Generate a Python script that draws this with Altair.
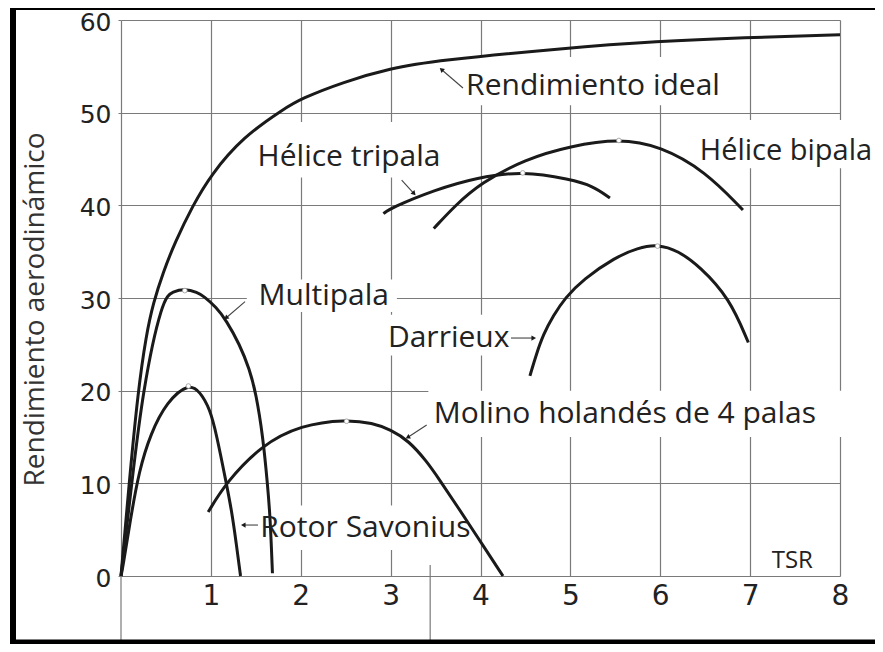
import altair as alt
import pandas as pd

# ---------------- data ----------------
ideal_x = [0, 0.09, 0.19, 0.28, 0.36, 0.47, 0.6, 0.8, 1.0, 1.36, 1.81, 2.0, 2.47, 3.0, 3.5, 4.96, 5.96, 6.92, 8.0]
ideal_y = [0, 10, 20, 26, 29.5, 32.8, 36, 40, 43.3, 47.4, 50.4, 51.5, 53.3, 54.8, 55.6, 57.0, 57.7, 58.1, 58.4]

multi_x = [0, 0.12, 0.24, 0.46, 0.58, 0.71, 0.85, 0.92, 1.06, 1.17, 1.32, 1.43, 1.50, 1.58, 1.63, 1.66, 1.685]
multi_y = [0, 10, 20, 30, 30.7, 31.0, 30.6, 30.2, 29.0, 27.6, 25.0, 22.3, 19.8, 15.0, 9.9, 6.4, 0.3]

savo_x = [0, 0.02, 0.11, 0.20, 0.33, 0.51, 0.75, 0.88, 0.99, 1.06, 1.17, 1.23, 1.28, 1.33]
savo_y = [0, 0.9, 6.4, 11.3, 15.4, 18.8, 20.8, 19.9, 18.0, 15.4, 10.1, 7.1, 3.7, 0]

molino_x = [0.97, 1.17, 1.56, 2.0, 2.51, 2.8, 3.0, 3.2, 3.4, 3.55, 3.75, 3.96, 4.25]
molino_y = [6.9, 10.1, 14.1, 16.3, 16.9, 16.5, 15.8, 14.6, 12.4, 10.3, 7.4, 4.3, 0]

tri_x = [2.92, 3.0, 3.5, 3.96, 4.47, 5.0, 5.25, 5.44]
tri_y = [39.1, 39.7, 41.7, 43.0, 43.7, 42.8, 42.1, 40.8]

bi_x = [3.48, 3.72, 4.0, 4.5, 5.0, 5.54, 6.0, 6.5, 6.92]
bi_y = [37.5, 40, 42.4, 45.0, 46.4, 47.2, 46.4, 43.7, 39.5]

dar_x = [4.55, 4.62, 4.70, 4.81, 4.94, 5.14, 5.5, 5.75, 5.97, 6.2, 6.44, 6.77, 6.98]
dar_y = [21.6, 23.9, 26.1, 28.1, 30, 32, 34.4, 35.4, 35.8, 35.1, 33.4, 30, 25.2]

series_names = ["Rendimiento ideal", "Multipala", "Rotor Savonius",
                "Molino holandés de 4 palas", "Hélice tripala", "Hélice bipala", "Darrieux"]
series_x = [ideal_x, multi_x, savo_x, molino_x, tri_x, bi_x, dar_x]
series_y = [ideal_y, multi_y, savo_y, molino_y, tri_y, bi_y, dar_y]

# optimum points (small open circles)
peak_x = [0.71, 0.75, 2.51, 4.47, 5.54, 5.97]
peak_y = [30.8, 20.5, 16.7, 43.5, 47.0, 35.6]

# label texts and their anchor (left / baseline) in data units
label_text = ["Rendimiento ideal", "Hélice tripala", "Hélice bipala", "Multipala",
              "Darrieux", "Molino holandés de 4 palas", "Rotor Savonius", "TSR"]
label_x = [3.84, 1.52, 6.44, 1.53, 2.97, 3.48, 1.55, 7.24]
label_y = [51.9, 44.2, 44.9, 29.2, 24.7, 16.5, 4.24, 0.86]
label_fs = [30, 30, 29, 30, 30, 30, 30, 24]

# white boxes behind labels (they interrupt the grid)
box_x0 = [3.75, 1.45, 6.38, 1.40, 2.92, 3.42, 1.35]
box_x1 = [6.73, 3.68, 8.6, 3.07, 4.30, 8.06, 3.95]
box_y0 = [50.8, 43.0, 44.0, 28.5, 23.8, 15.0, 2.8]
box_y1 = [56.0, 49.0, 49.2, 32.0, 28.2, 20.0, 7.6]

# leader lines with arrowheads (tail -> tip)
arr_x0 = [3.805, 3.123, 1.380, 4.339, 3.401, 1.524]
arr_y0 = [52.66, 42.73, 29.6, 25.68, 16.29, 5.50]
arr_x1 = [3.572, 3.255, 1.175, 4.584, 3.197, 1.369]
arr_y1 = [54.60, 41.33, 27.9, 25.68, 15.0, 5.50]
arr_angle = [311, 138, 232, 90, 242, 270]

x_ticks = [0, 1, 2, 3, 4, 5, 6, 7, 8]
y_ticks = [0, 10, 20, 30, 40, 50, 60]

# ---------------- tables ----------------
rows = []
for name, xs_, ys_ in zip(series_names, series_x, series_y):
    for i, (a, b) in enumerate(zip(xs_, ys_)):
        rows.append({"serie": name, "tsr": a, "cp": b, "orden": i})
curves = pd.DataFrame(rows)
peaks = pd.DataFrame({"tsr": peak_x, "cp": peak_y})
labels = pd.DataFrame({"t": label_text, "tsr": label_x, "cp": label_y, "fs": label_fs})
boxes = pd.DataFrame({"tsr": box_x0, "x1": box_x1, "cp": box_y0, "y1": box_y1})
arrows = pd.DataFrame({"tsr": arr_x0, "cp": arr_y0, "x1": arr_x1, "y1": arr_y1})
heads = pd.DataFrame({"tsr": arr_x1, "cp": arr_y1, "ang": arr_angle})
extra = pd.DataFrame({"tsr": [0, 3.44], "cp": [0, 1.2]})
one = pd.DataFrame({"k": [0]})

W, H = 719, 556
GRID = "#7a7a7a"
INK = "#1a1a1a"

xs = alt.Scale(domain=[0, 8], nice=False, zero=False)
ys = alt.Scale(domain=[0, 60], nice=False, zero=False)

x_axis = alt.Axis(values=x_ticks, grid=True, gridColor=GRID, gridWidth=1.2, gridOpacity=1,
                  domain=False, ticks=False, labelFlush=False,
                  labelExpr="datum.value == 0 ? '' : datum.label",
                  labelFont="DejaVu Sans", labelFontSize=28, labelColor="#222",
                  labelPadding=6, title=None)
y_axis = alt.Axis(values=y_ticks, grid=True, gridColor=GRID, gridWidth=1.2, gridOpacity=1,
                  domain=False, ticks=True, tickSize=3, tickColor=GRID,
                  labelFont="DejaVu Sans", labelFontSize=25, labelColor="#222",
                  labelPadding=7, labelOffset=2,
                  title="Rendimiento aerodinámico", titleFont="Open Sans",
                  titleFontSize=28, titleFontWeight="normal", titleColor="#333",
                  titleAngle=270, titleX=-78, titleY=289, titleAlign="center",
                  titleBaseline="alphabetic")

X = alt.X("tsr:Q", scale=xs, axis=x_axis, title=None)
Y = alt.Y("cp:Q", scale=ys, axis=y_axis, title="Rendimiento aerodinámico")

box_layer = alt.Chart(boxes).mark_rect(fill="white").encode(
    x=X, x2="x1:Q", y=Y, y2="y1:Q")

curve_layer = alt.Chart(curves).mark_line(color=INK, strokeWidth=3,
                                          interpolate="basis").encode(
    x=X, y=Y, detail="serie:N", order="orden:Q")

peak_layer = alt.Chart(peaks).mark_point(shape="circle", filled=True, fill="white",
                                         stroke="#999", strokeWidth=0.8, size=22,
                                         opacity=1).encode(x=X, y=Y)

leader_layer = alt.Chart(arrows).mark_rule(color="#444", strokeWidth=1.1).encode(
    x=X, y=Y, x2="x1:Q", y2="y1:Q")

head_layer = alt.Chart(heads).mark_point(shape="triangle", filled=True, color=INK,
                                         size=28, opacity=1).encode(
    x=X, y=Y, angle=alt.Angle("ang:Q", scale=None))

text_layer = alt.Chart(labels).mark_text(align="left", baseline="alphabetic",
                                         font="Open Sans", color="#222").encode(
    x=X, y=Y, text="t:N", size=alt.Size("fs:Q", scale=None))

ext_layer = alt.Chart(extra).mark_rule(color=GRID, strokeWidth=1.2).encode(
    x=X, y=Y, y2=alt.value(H + 70))

frame_left = alt.Chart(one).mark_rule(color="black", strokeWidth=6).encode(
    x=alt.value(-108), y=alt.value(-14), y2=alt.value(H + 70))
frame_top = alt.Chart(one).mark_rule(color="black", strokeWidth=4).encode(
    x=alt.value(-111), x2=alt.value(W + 60), y=alt.value(-12))
frame_bottom = alt.Chart(one).mark_rule(color="black", strokeWidth=5).encode(
    x=alt.value(-111), x2=alt.value(W + 60), y=alt.value(H + 66))

chart = alt.layer(box_layer, curve_layer, peak_layer, leader_layer, head_layer,
                  text_layer, ext_layer, frame_left, frame_top, frame_bottom).properties(
    width=W, height=H,
    autosize=alt.AutoSizeParams(type="none"),
    padding={"left": 113, "top": 12, "right": 35, "bottom": 68},
    background="white",
).configure_view(stroke=None)

chart.save("out.html", embed_options={"renderer": "svg", "actions": False})
